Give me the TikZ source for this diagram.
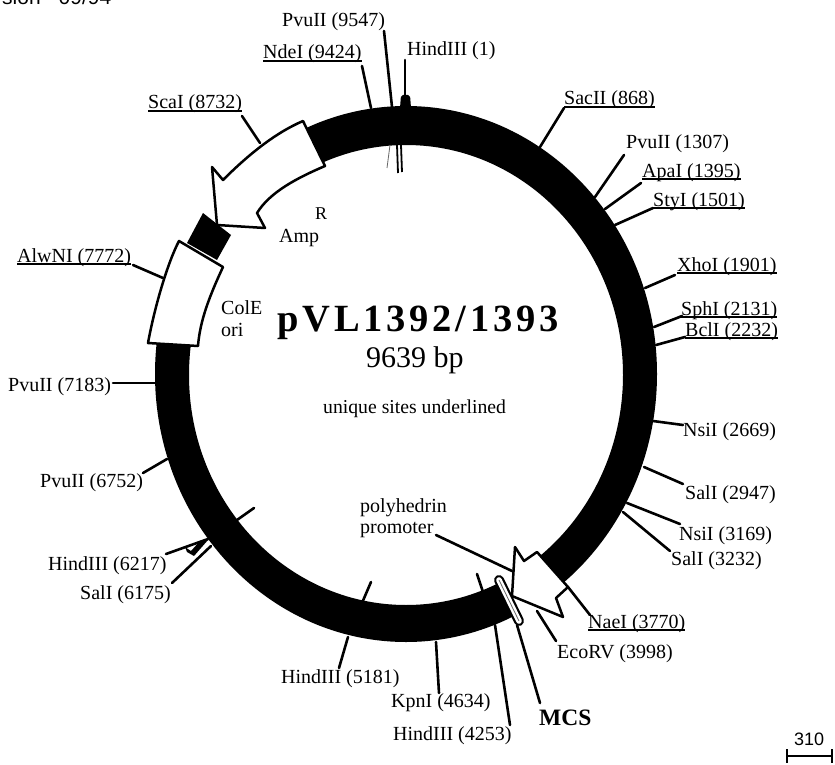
\documentclass[tikz,border=0pt]{standalone}
\usepackage{fontspec}
\setmainfont{Liberation Serif}
\newfontfamily\labsans{Liberation Sans}
\newfontfamily\titlefont[LetterSpace=10]{Liberation Serif}
\newcommand\ulab[1]{\leavevmode\setbox0\hbox{#1}\rlap{\raisebox{-2.6pt}{\rule{\wd0}{1.4pt}}}\box0}
% \site{id}{label x}{label baseline y}{label text}{tick outer x}{tick outer y}{tick ring x}{tick ring y}
\newcommand\site[8]{%
  \node[lab] (n#1) at (#2,#3) {#4};
  \coordinate (o#1) at (#5,#6);
  \coordinate (r#1) at (#7,#8);
  \draw[tick] (o#1) -- (r#1);}
\tikzset{
  lab/.style={anchor=base west,inner sep=0pt,font=\fontsize{20}{22}\selectfont},
  tick/.style={line width=2.6pt,line cap=round,black},
  feature/.style={fill=white,draw=black,line width=2.5pt,line join=round},
}
\begin{document}
\begin{tikzpicture}[x=1pt,y=-1pt]
\useasboundingbox (0,0) rectangle (835,765);
\clip (0,0) rectangle (835,765);
\fill[white] (0,0) rectangle (835,765);
% plasmid ring
\fill[black,even odd rule] (406,374) ellipse [x radius=251pt,y radius=268pt]
      (406,375) ellipse [x radius=217pt,y radius=230pt];
% gaps in the ring under the white features
\fill[white] (293,100) -- (327,170) -- (300,200) -- (230,280) -- (198,345) -- (130,343) -- (150,250) -- (200,150) -- cycle;
\fill[white] (497,577) -- (510,550) -- (540,556) -- (568,587) -- (572,630) -- (520,625) -- cycle;
% sites
\site{a}{282}{27}{PvuII (9547)}{384}{31}{392}{107}
\site{b}{263}{59}{\ulab{NdeI (9424)}}{362}{66}{371}{108}
\site{c}{407}{56}{HindIII (1)}{405}{60}{405}{100}
\site{d}{148}{109}{\ulab{ScaI (8732)}}{242}{116}{260}{143}
\site{e}{17}{262}{\ulab{AlwNI (7772)}}{133}{265}{163}{278}
\site{f}{8}{391}{PvuII (7183)}{113}{383}{155}{383}
\site{g}{40}{487}{PvuII (6752)}{143}{473}{167}{459}
\site{h}{48}{570}{HindIII (6217)}{166}{554}{208}{539}
\site{i}{80}{599}{SalI (6175)}{172}{583}{211}{546}
\site{j}{281}{683}{HindIII (5181)}{339}{668}{348}{637}
\site{k}{391}{707}{KpnI (4634)}{439}{693}{436}{642}
\site{l}{393}{740}{HindIII (4253)}{510}{725}{495}{625}
\site{m}{557}{658}{EcoRV (3998)}{556}{641}{537}{611}
\site{n}{588}{628}{\ulab{NaeI (3770)}}{590}{615}{568}{587}
\site{o}{671}{565}{SalI (3232)}{670}{551}{623}{512}
\site{p}{679}{540}{NsiI (3169)}{680}{524}{627}{503}
\site{q}{685}{499}{SalI (2947)}{683}{484}{644}{467}
\site{r}{683}{436}{NsiI (2669)}{683}{425}{653}{421}
\site{s}{685}{336}{\ulab{BclI (2232)}}{685}{337}{656}{345}
\site{t}{681}{315}{\ulab{SphI (2131)}}{682}{316}{654}{327}
\site{u}{677}{271}{\ulab{XhoI (1901)}}{675}{275}{645}{288}
\site{v}{653}{206}{\ulab{StyI (1501)}}{653}{208}{615}{225}
\site{w}{642}{177}{\ulab{ApaI (1395)}}{641}{183}{605}{209}
\site{x}{626}{148}{PvuII (1307)}{624}{155}{595}{197}
\site{y}{564}{105}{\ulab{SacII (868)}}{564}{108}{540}{147}
% unlabelled inner ticks
\coordinate (i1a) at (237,520); \coordinate (i1b) at (254,508);
\draw[tick] (i1a) -- (i1b);
\coordinate (i2a) at (362,603); \coordinate (i2b) at (371,582);
\draw[tick] (i2a) -- (i2b);
\coordinate (i3a) at (483,592); \coordinate (i3b) at (477,574);
\draw[tick] (i3a) -- (i3b);
% small marks at the top of the ring
\fill[black,rounded corners=2pt] (400,108) -- (401,95) -- (410,95) -- (411,108) -- cycle;
\draw[line width=0.8pt,black!60] (390,145) -- (387,168);
\draw[line width=1.8pt] (397,145) -- (398,173);
\draw[line width=1.8pt] (401,145) -- (402,172);
\fill[black] (185,547) -- (191,551) -- (200,541) -- (208,540) -- (194,556) -- (187,552) -- cycle;
% ColE ori box
\fill[black] (203,213) -- (231,235) -- (217,260) -- (187,243) -- cycle;
\draw[feature] (179,241) .. controls (168,262) and (155,305) .. (148,343)
   -- (198,346) .. controls (200,320) and (210,295) .. (223,267) -- cycle;
% AmpR arrow
\draw[feature] (303,121) .. controls (275,133) and (248,155) .. (223,180)
   -- (212,167) -- (217,225) -- (265,228) -- (257,213)
   .. controls (270,192) and (297,178) .. (325,166) -- cycle;
% polyhedrin promoter arrow
\draw[feature] (512,596) -- (515,547) -- (524,561) -- (537,552) -- (568,587)
   -- (556,598) -- (563,617) -- cycle;
% polyhedrin leader
\coordinate (pa) at (436,535); \coordinate (pb) at (512,571);
\draw[tick] (pa) -- (pb);
% MCS bar
\coordinate (ma) at (499,580); \coordinate (mb) at (519,621);
\draw[line width=10pt,line cap=round,black] (ma) -- (mb);
\draw[line width=5.6pt,line cap=round,white] (ma) -- (mb);
\draw[line width=0.8pt,black!60] (ma) -- (mb);
\coordinate (mc) at (540,703); \coordinate (md) at (517,625);
\draw[tick] (mc) -- (md);
\node[lab,font=\fontsize{23.5}{25}\selectfont\bfseries] (mcs) at (539,725) {MCS};
% feature labels
\node[lab] (amp) at (279,242) {Amp};
\node[lab,font=\fontsize{18}{20}\selectfont] (ampr) at (315,219) {R};
\node[lab] (cole) at (221,314) {ColE};
\node[lab] (ori) at (221,336) {ori};
\node[lab] (poly1) at (360,512) {polyhedrin};
\node[lab] (poly2) at (360,533) {promoter};
% centre text
\node[lab,font=\fontsize{38.5}{40}\titlefont\bfseries] (title) at (277,331) {pVL1392/1393};
\node[lab,font=\fontsize{30}{32}\selectfont] (size) at (366,367) {9639 bp};
\node[lab,font=\fontsize{19.7}{22}\selectfont] (uniq) at (323,413) {unique sites underlined};
% scale bar
\node[lab,font=\fontsize{18}{20}\selectfont\labsans] (scale) at (794,745) {310};
\coordinate (sa) at (787,756); \coordinate (sb) at (832,756);
\draw[line width=2.4pt] (sa) -- (sb);
\draw[line width=2.4pt] (787,749) -- (787,763);
\draw[line width=2.4pt] (832,749) -- (832,763);
% header fragment
\node[lab,font=\fontsize{21}{23}\selectfont\labsans] (head) at (2,5) {sion\hspace{18pt}09/94};
\end{tikzpicture}
\end{document}
